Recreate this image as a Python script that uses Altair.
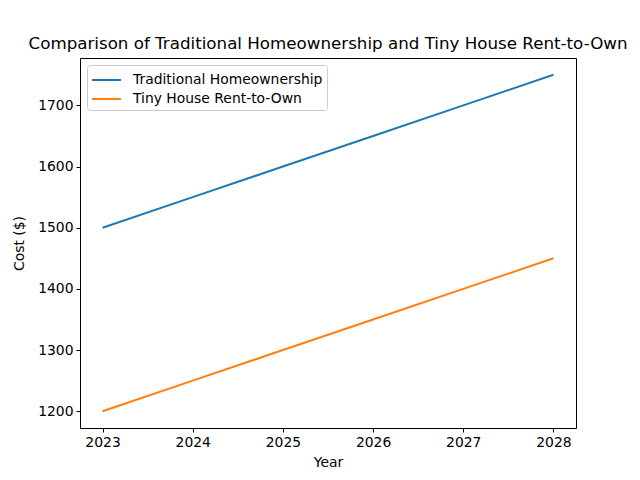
import altair as alt
import pandas as pd

years = [2023, 2024, 2025, 2026, 2027, 2028]
traditional = [1500, 1550, 1600, 1650, 1700, 1750]
tiny = [1200, 1250, 1300, 1350, 1400, 1450]
series_names = ["Traditional Homeownership", "Tiny House Rent-to-Own"]
colors = ["#1f77b4", "#ff7f0e"]
y_ticks = [1200, 1300, 1400, 1500, 1600, 1700]

rows = []
for y, v in zip(years, traditional):
    rows.append({"Year": y, "Cost": v, "Series": series_names[0]})
for y, v in zip(years, tiny):
    rows.append({"Year": y, "Cost": v, "Series": series_names[1]})
df = pd.DataFrame(rows)

font = "DejaVu Sans"

chart = alt.Chart(df).mark_line(strokeWidth=2).encode(
    x=alt.X("Year:Q",
            scale=alt.Scale(domain=[2022.75, 2028.25], nice=False, zero=False),
            axis=alt.Axis(title="Year", values=years, format="d", grid=False,
                          tickSize=4, tickColor="black", domain=False,
                          labelFontSize=13.9, titleFontSize=13.9,
                          labelFont=font, titleFont=font, labelColor="black",
                          titleColor="black", titleFontWeight="normal",
                          labelPadding=3, titlePadding=7)),
    y=alt.Y("Cost:Q",
            scale=alt.Scale(domain=[1172.5, 1777.5], nice=False, zero=False),
            axis=alt.Axis(title="Cost ($)", values=y_ticks, format="d",
                          grid=False, tickSize=4, tickColor="black", domain=False,
                          labelFontSize=13.9, titleFontSize=13.9,
                          labelFont=font, titleFont=font, labelColor="black",
                          titleColor="black", titleFontWeight="normal",
                          labelPadding=3, titlePadding=11)),
    color=alt.Color("Series:N",
                    scale=alt.Scale(domain=series_names, range=colors),
                    legend=alt.Legend(title=None, orient="top-left", offset=7,
                                      symbolType="M-1,0H1.9", symbolStrokeWidth=2,
                                      symbolSize=400, labelFontSize=13.9,
                                      labelFont=font, labelColor="black",
                                      labelOffset=20,
                                      strokeColor="#cccccc", fillColor="white",
                                      padding=4, cornerRadius=3, rowPadding=1,
                                      labelLimit=300)),
).properties(
    width=496,
    height=370,
    background="white",
    title=alt.Title("Comparison of Traditional Homeownership and Tiny House Rent-to-Own",
                    fontSize=16.7, font=font, fontWeight="normal", color="black",
                    offset=5, anchor="middle"),
    autosize=alt.AutoSizeParams(type="none"),
    padding={"left": 80, "top": 58, "right": 64, "bottom": 52},
).configure_view(stroke="black", strokeWidth=1)

chart.save("out.html", embed_options={"renderer": "svg", "actions": False})
